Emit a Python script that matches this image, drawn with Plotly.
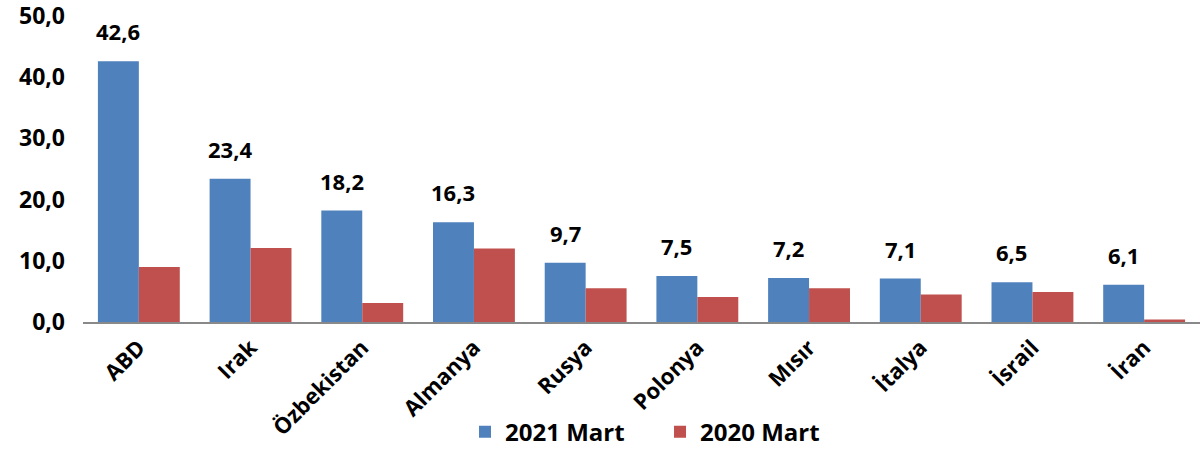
import plotly.graph_objects as go

countries = ["ABD", "Irak", "Özbekistan", "Almanya", "Rusya", "Polonya", "Mısır", "İtalya", "İsrail", "İran"]
mart_2021 = [42.6, 23.4, 18.2, 16.3, 9.7, 7.5, 7.2, 7.1, 6.5, 6.1]
mart_2020 = [9.0, 12.1, 3.1, 12.0, 5.5, 4.1, 5.5, 4.5, 4.9, 0.4]
y_ticks = [0, 10, 20, 30, 40, 50]

FONT = "'Open Sans', sans-serif"

def fmt(v):
    return f"{v:.1f}".replace(".", ",")

fig = go.Figure()
fig.add_trace(go.Bar(
    name="<b>2021 Mart</b>", x=countries, y=mart_2021,
    marker=dict(color="#4F81BD", line=dict(width=0)),
))
fig.add_trace(go.Bar(
    name="<b>2020 Mart</b>", x=countries, y=mart_2020,
    marker=dict(color="#C0504D", line=dict(width=0)),
))

for c, v in zip(countries, mart_2021):
    fig.add_annotation(
        x=c, y=v, text=f"<b>{fmt(v)}</b>", showarrow=False,
        xshift=-20.5, yshift=13, yanchor="bottom",
        font=dict(size=22, family=FONT, color="black"),
    )

fig.update_layout(
    width=1200, height=451,
    margin=dict(l=83, r=0, t=16, b=129, autoexpand=False),
    barmode="group", bargap=0.267, bargroupgap=0,
    plot_bgcolor="white", paper_bgcolor="white",
    font=dict(family=FONT, color="black"),
    showlegend=True,
    legend=dict(orientation="h", x=0.342, xanchor="left", y=-0.36, yanchor="middle",
                font=dict(size=24, family=FONT, color="black"),
                bgcolor="rgba(0,0,0,0)",
                traceorder="normal", entrywidth=150, entrywidthmode="pixels"),
)
fig.update_xaxes(
    automargin=False,
    tickangle=-45, tickfont=dict(size=22, family=FONT, color="black"),
    showline=True, linecolor="#898989", linewidth=2,
    ticks="", showgrid=False,
    tickvals=countries, ticktext=[f"<b>{c}</b>" for c in countries],
    ticklabelstandoff=2, ticklabeloverflow="allow",
)
fig.update_yaxes(
    automargin=False,
    range=[0, 50], tickvals=y_ticks,
    ticktext=[f"<b>{fmt(v)}</b>" for v in y_ticks],
    tickfont=dict(size=23, family=FONT, color="black"),
    showline=False, showgrid=False, zeroline=False, ticks="",
    ticklabelstandoff=17, ticklabeloverflow="allow",
)

# remove the default 8px page margin so the figure fills the window exactly
fig.write_html(
    "out.html",
    config={"displayModeBar": False},
    post_script="document.body.style.margin='0px';document.body.style.overflow='hidden';",
)
